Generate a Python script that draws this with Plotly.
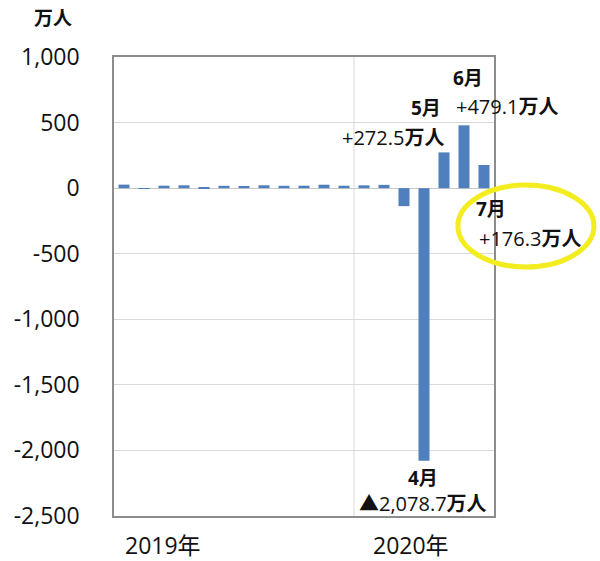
import plotly.graph_objects as go

months = ["2019-01", "2019-02", "2019-03", "2019-04", "2019-05", "2019-06",
          "2019-07", "2019-08", "2019-09", "2019-10", "2019-11", "2019-12",
          "2020-01", "2020-02", "2020-03", "2020-04", "2020-05", "2020-06", "2020-07"]
values = [26.8, 0.1, 18.9, 21.6, 6.2, 17.8, 16.6, 21.9, 18.0, 18.5, 26.1, 18.4,
          21.4, 25.1, -137.3, -2078.7, 272.5, 479.1, 176.3]
y_ticks = [1000, 500, 0, -500, -1000, -1500, -2000, -2500]
y_tick_text = ["1,000", "500", "0", "-500", "-1,000", "-1,500", "-2,000", "-2,500"]
year_labels = ["2019年", "2020年"]
year_label_pos = [1.95, 14.35]

FONT = "Open Sans, Noto Sans CJK JP, sans-serif"
BLUE = "#4f7fbc"
TXT = "#111111"

idx = list(range(len(months)))

fig = go.Figure()
fig.add_trace(go.Bar(x=idx, y=values, marker=dict(color=BLUE, line=dict(width=0)),
                     width=0.55, hoverinfo="skip"))

fig.update_layout(
    width=600, height=561,
    margin=dict(l=114, r=106, t=57, b=45),
    paper_bgcolor="white", plot_bgcolor="white",
    showlegend=False,
    font=dict(family=FONT, color=TXT),
    xaxis=dict(range=[-0.5, len(months) - 0.5], showticklabels=False, showgrid=False,
               zeroline=False, showline=True, linecolor="#8c8c8c", linewidth=1.5,
               mirror=True, ticks=""),
    yaxis=dict(range=[-2500, 1000], tickvals=y_ticks, ticktext=y_tick_text,
               showgrid=True, gridcolor="#d9d9d9", gridwidth=1,
               zeroline=True, zerolinecolor="#c8c8c8", zerolinewidth=1,
               showline=True, linecolor="#8c8c8c", linewidth=1.5, mirror=True,
               ticks="", ticklabelstandoff=28,
               tickfont=dict(family=FONT, size=23, color=TXT)),
)

# vertical grid line between years
fig.add_shape(type="line", xref="x", yref="paper", x0=11.5, x1=11.5, y0=0, y1=1,
              line=dict(color="#d9d9d9", width=1), layer="below")

# unit label
fig.add_annotation(text="<b>万人</b>", xref="paper", yref="paper", x=-0.16, y=1.085,
                   showarrow=False, font=dict(size=19, color=TXT), xanchor="center",
                   yanchor="middle")

# year labels
for lab, pos in zip(year_labels, year_label_pos):
    fig.add_annotation(text=lab, xref="x", yref="paper", x=pos, y=-0.063,
                       showarrow=False, font=dict(size=23, color=TXT),
                       xanchor="center", yanchor="middle")

# data callouts
def callout(i, month_txt, val_txt, dx1, dy1, dx2, dy2):
    fig.add_annotation(text="<b>" + month_txt + "</b>", xref="x", yref="y",
                       x=idx[i], y=values[i], xshift=dx1, yshift=dy1, showarrow=False,
                       font=dict(size=19, color=TXT), xanchor="center", yanchor="middle")
    fig.add_annotation(text=val_txt, xref="x", yref="y",
                       x=idx[i], y=values[i], xshift=dx2, yshift=dy2, showarrow=False,
                       font=dict(size=20, color=TXT), xanchor="center", yanchor="middle")

callout(16, "5月", "+272.5<b>万人</b>", -18, 44, -51, 15)
callout(17, "6月", "+479.1<b>万人</b>", 4, 47, 43, 19)
callout(18, "7月", "+176.3<b>万人</b>", 7, -44, 46, -73)
callout(15, "4月", "▲2,078.7<b>万人</b>", -1, -17, -1, -43)

# yellow highlight ellipse
fig.add_shape(type="circle", xref="paper", yref="paper",
              x0=0.905, x1=1.263, y0=0.5425, y1=0.721,
              line=dict(color="#f3ec1f", width=5), layer="above")

fig.write_html("out.html", config={"displayModeBar": False},
               post_script="document.body.style.margin='0';document.body.style.overflow='hidden';")
